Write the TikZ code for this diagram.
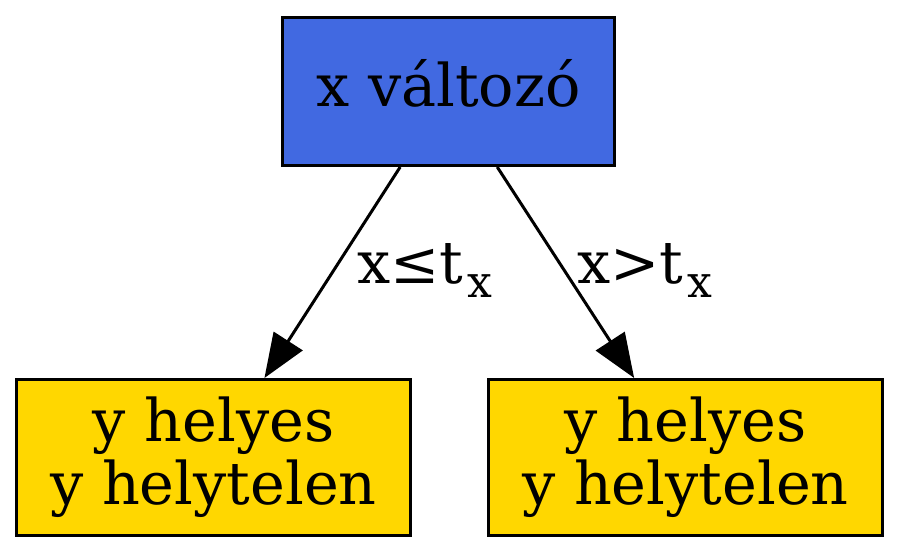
\documentclass[tikz,border=0pt]{standalone}
\usepackage{fontspec}
\setmainfont{DejaVu Serif}
\usetikzlibrary{arrows.meta}
\definecolor{royal}{HTML}{4169E1}
\definecolor{goldc}{HTML}{FFD700}
\newcommand{\subx}{\kern4bp\raisebox{-14bp}{\fontsize{44bp}{44bp}\selectfont x}}
\begin{document}
\begin{tikzpicture}[x=1bp,y=-1bp,
  box/.style={draw=black, line width=3bp, inner sep=0pt,
    font=\fontsize{58.8bp}{63bp}\selectfont, align=center},
  topbox/.style={box, fill=royal, minimum width=332bp, minimum height=148bp,
    text height=45bp, text depth=14bp},
  leafbox/.style={box, fill=goldc, minimum width=394bp, minimum height=156bp},
  edgelabel/.style={font=\fontsize{58.8bp}{63bp}\selectfont, inner sep=0pt, anchor=base west},
  conn/.style={line width=3bp, -{Triangle[length=44bp,width=34bp]}}]
\useasboundingbox (0,0) rectangle (900,554);
\node[topbox] (root) at (448.5,91.5) {x változó};
\node[leafbox] (leafL) at (213.5,457.5) {y helyes\\y helytelen};
\node[leafbox] (leafR) at (685.5,457.5) {y helyes\\y helytelen};
\draw[conn] (root) -- (leafL);
\draw[conn] (root) -- (leafR);
\node[edgelabel] (lblL) at (357,284) {x≤t\subx};
\node[edgelabel] (lblR) at (577,284) {x>t\subx};
\end{tikzpicture}
\end{document}
